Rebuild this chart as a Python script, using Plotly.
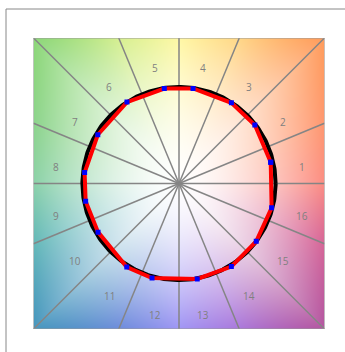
import numpy as np
import plotly.graph_objects as go

# 16 colour samples: hue angle (degrees) and chroma (fraction of the half-width)
SAMPLES = [str(i) for i in range(1, 17)]
HUE_DEG = [13.0, 37.6, 57.0, 81.6, 98.8, 122.6, 149.0, 173.4,
           190.7, 211.0, 238.0, 254.1, 280.8, 302.2, 323.2, 345.3]
CHROMA = [0.647, 0.658, 0.661, 0.660, 0.660, 0.664, 0.651, 0.653,
          0.653, 0.649, 0.677, 0.676, 0.668, 0.675, 0.663, 0.658]

REF_RADIUS = 0.664        # reference circle
LABEL_RADIUS = 0.862      # radius of the sector number labels
N_SECTORS = 16

# Colours on the square's boundary, every 22.5 degrees starting at +x
EDGE_ANGLES = np.arange(0, 360, 22.5)
EDGE_COLORS = np.array([
    (252, 140, 130), (255, 150, 110), (255, 155, 90), (255, 215, 135),
    (255, 248, 165), (215, 240, 145), (140, 215, 120), (140, 212, 140),
    (140, 210, 170), (100, 185, 185), (70, 150, 190), (110, 140, 220),
    (160, 150, 245), (170, 120, 220), (180, 85, 160), (215, 100, 150),
], dtype=float)


def background(n=292, power=1.6):
    c = (np.arange(n) + 0.5) / n * 2 - 1
    X, Y = np.meshgrid(c, c)          # row 0 is the bottom row
    ang = np.degrees(np.arctan2(Y, X)) % 360
    edge = np.maximum(np.abs(X), np.abs(Y))
    t = np.clip(edge, 0, 1) ** power
    ext_ang = np.append(EDGE_ANGLES, 360)
    ext_col = np.vstack([EDGE_COLORS, EDGE_COLORS[:1]])
    rgb = np.stack([np.interp(ang, ext_ang, ext_col[:, k]) for k in range(3)], -1)
    out = 255 - (255 - rgb) * t[..., None]
    return np.clip(out, 0, 255).astype(np.uint8), n


img, n = background()
step = 2 / n

fig = go.Figure()
fig.add_trace(go.Image(z=img, x0=-1 + step / 2, dx=step, y0=-1 + step / 2, dy=step,
                       hoverinfo="skip"))

# Radial sector dividers from the centre to the frame
rx, ry = [], []
for k in range(N_SECTORS):
    th = np.radians(k * 360 / N_SECTORS)
    c, s = np.cos(th), np.sin(th)
    m = max(abs(c), abs(s))
    rx += [0, c / m, None]
    ry += [0, s / m, None]
fig.add_trace(go.Scatter(x=rx, y=ry, mode="lines",
                         line=dict(color="#858585", width=1.5), hoverinfo="skip"))

# Reference circle
tt = np.linspace(0, 2 * np.pi, 361)
fig.add_trace(go.Scatter(x=REF_RADIUS * np.cos(tt), y=REF_RADIUS * np.sin(tt),
                         mode="lines", line=dict(color="black", width=4),
                         hoverinfo="skip"))

# Sample polygon
h = np.radians(HUE_DEG + HUE_DEG[:1])
cr = np.array(CHROMA + CHROMA[:1])
fig.add_trace(go.Scatter(x=cr * np.cos(h), y=cr * np.sin(h), mode="lines+markers",
                         line=dict(color="#ff0000", width=4),
                         marker=dict(color="#0000ff", size=5, symbol="square"),
                         text=SAMPLES + SAMPLES[:1], hoverinfo="text"))

# Sector numbers, centred in each sector and set slightly below their radius point
la = np.radians(np.arange(N_SECTORS) * 360 / N_SECTORS + 180 / N_SECTORS)
annotations = [
    dict(x=LABEL_RADIUS * np.cos(a), y=LABEL_RADIUS * np.sin(a), xref="x", yref="y",
         text=lab, showarrow=False, yshift=-8, xanchor="center", yanchor="middle",
         font=dict(family="Open Sans", size=10, color="#808080"))
    for a, lab in zip(la, SAMPLES)
]

fig.update_layout(
    width=345, height=352,
    margin=dict(l=33, r=20, t=38, b=23),
    paper_bgcolor="white", plot_bgcolor="white",
    showlegend=False,
    annotations=annotations,
    xaxis=dict(range=[-1, 1], visible=False, showgrid=False, zeroline=False,
               scaleanchor=False),
    yaxis=dict(range=[-1, 1], visible=False, showgrid=False, zeroline=False,
               autorange=False),
    shapes=[
        dict(type="rect", xref="x", yref="y", x0=-1, x1=1, y0=-1, y1=1,
             line=dict(color="#9a9a9a", width=1), layer="above"),
        dict(type="rect", xref="paper", yref="paper",
             x0=(6 - 33) / 292, x1=(360 - 33) / 292,
             y0=(329 - 370) / 291, y1=(329 - 9) / 291,
             line=dict(color="#888888", width=1), layer="above"),
    ],
)

fig.write_html("out.html")
